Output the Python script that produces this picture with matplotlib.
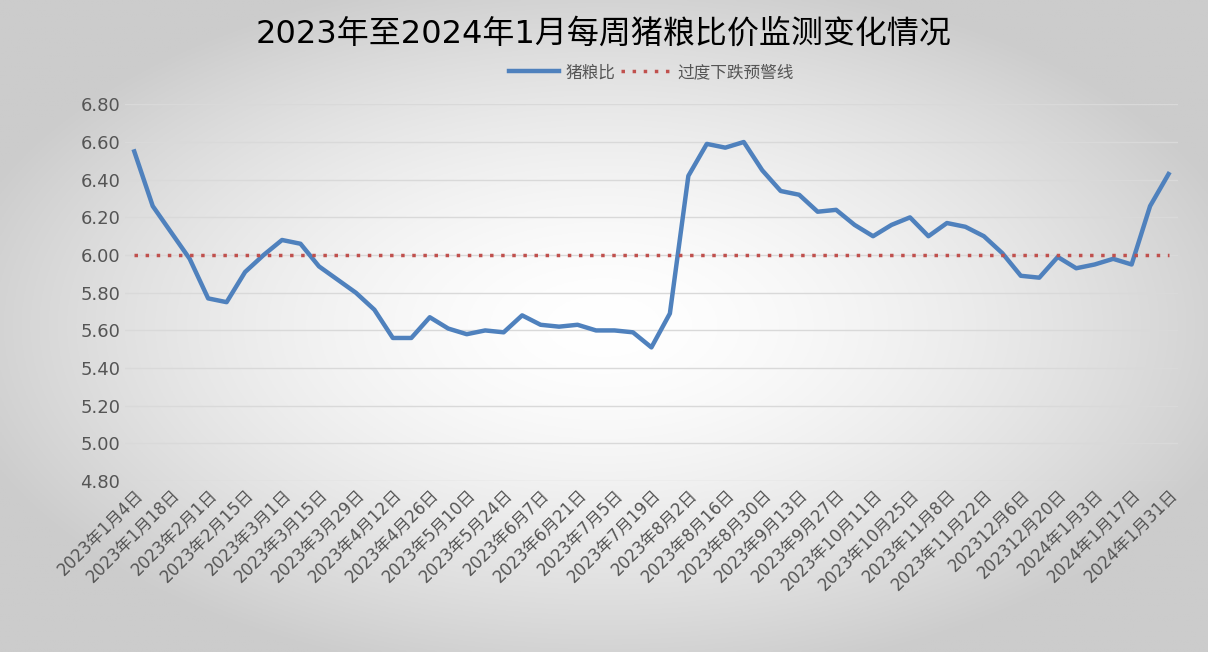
import matplotlib
matplotlib.use("Agg")
import matplotlib.pyplot as plt
import numpy as np
import pandas as pd

plt.rcParams['font.family'] = ['DejaVu Sans', 'Noto Sans CJK SC']

dates = pd.date_range("2023-01-04", "2024-01-31", freq="7D")
values = [6.55, 6.26, 6.12, 5.98, 5.77, 5.75, 5.91, 6.00, 6.08, 6.06,
          5.94, 5.87, 5.80, 5.71, 5.56, 5.56, 5.67, 5.61, 5.58, 5.60,
          5.59, 5.68, 5.63, 5.62, 5.63, 5.60, 5.60, 5.59, 5.51, 5.69,
          6.42, 6.59, 6.57, 6.60, 6.45, 6.34, 6.32, 6.23, 6.24, 6.16,
          6.10, 6.16, 6.20, 6.10, 6.17, 6.15, 6.10, 6.01, 5.89, 5.88,
          5.99, 5.93, 5.95, 5.98, 5.95, 6.26, 6.43]
warning = [6.0] * len(values)

labels = []
for d in dates:
    if d.year == 2023 and d.month == 12:
        labels.append(f"2023{d.month}月{d.day}日")
    else:
        labels.append(f"{d.year}年{d.month}月{d.day}日")

fig = plt.figure(figsize=(12.08, 6.52), dpi=100)
bg = fig.add_axes([0, 0, 1, 1], zorder=-10)
yy, xx = np.mgrid[-1:1:300j, -1:1:600j]
r = np.sqrt(xx**2 + yy**2)
g = np.clip(1 - 0.17 * r**1.6, 0.8, 1)
bg.imshow(np.dstack([g, g, g]), aspect='auto', extent=[0, 1, 0, 1])
bg.axis('off')

ax = fig.add_axes([0.1035, 0.262, 0.8715, 0.578])
ax.patch.set_alpha(0)
x = np.arange(len(values))
ax.plot(x, values, color='#4f81bd', lw=3.2, label='猪粮比', solid_joinstyle='round')
ax.plot(x, warning, color='#c0504d', lw=2.5, ls=(0, (1, 2.2)), label='过度下跌预警线')
ax.set_xlim(-0.5, len(values) - 0.5)
ax.set_ylim(4.8, 6.8)
ax.set_yticks(np.arange(4.8, 6.81, 0.2))
ax.set_yticklabels([f"{v:.2f}" for v in np.arange(4.8, 6.81, 0.2)], fontsize=13, color='#555555')
ax.set_xticks(x[::2])
ax.set_xticklabels(labels[::2], rotation=45, ha='right', rotation_mode='anchor', fontsize=12, color='#555555')
ax.grid(axis='y', color='#d9d9d9', lw=1)
ax.set_axisbelow(True)
for s in ax.spines.values():
    s.set_visible(False)
ax.tick_params(length=0)
fig.text(0.5, 0.947, '2023年至2024年1月每周猪粮比价监测变化情况', ha='center', va='center', fontsize=23)
ax.legend(loc='center', bbox_to_anchor=(0.5, 1.085), ncol=2, frameon=False, fontsize=12,
          handlelength=3, handletextpad=0.4, columnspacing=0.3, labelcolor='#555555')
fig.savefig('out.png', dpi=100)
